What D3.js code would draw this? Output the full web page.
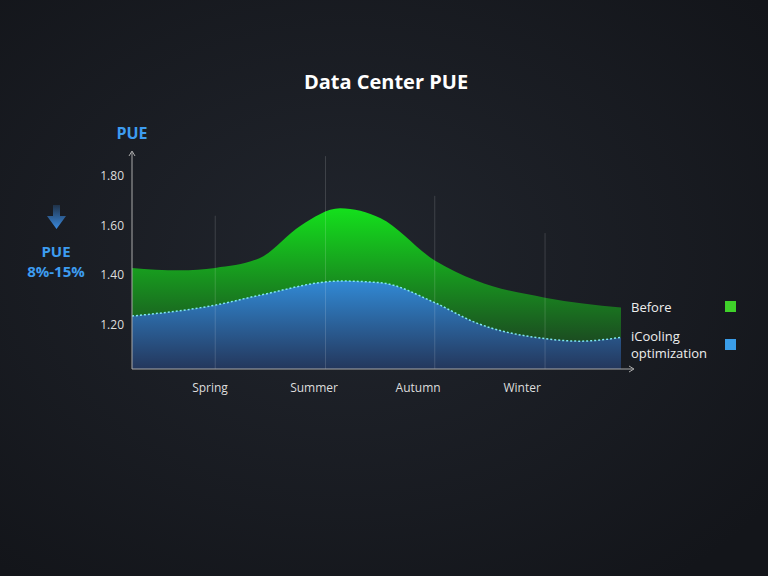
<!DOCTYPE html><html><head><meta charset="utf-8">
<script src="https://cdn.jsdelivr.net/npm/d3@7"></script>
<style>body{margin:0;background:#15181e}svg{display:block}text{font-family:"Open Sans","Noto Sans",sans-serif}</style>
</head><body><svg id="c" width="768" height="576"></svg><script>
const seasons=["Spring","Summer","Autumn","Winter"];
const seasonPos=[1,2,3,4];
const yTicks=[1.2,1.4,1.6,1.8];
const beforeX=[0.25,0.71,1.05,1.48,1.87,2.25,2.64,3.16,3.55,4.22,4.95];
const beforeV=[1.43,1.42,1.43,1.47,1.60,1.67,1.63,1.46,1.38,1.31,1.27];
const afterX=[0.25,1.05,1.48,2.25,2.64,3.16,3.55,4.22,4.56,4.95];
const afterV=[1.236,1.28,1.32,1.377,1.37,1.29,1.21,1.145,1.135,1.15];
const gridX=[1.05,2.11,3.16,4.22];
const gridTop=[1.64,1.88,1.72,1.57];
const legend=["Before","iCooling optimization"];
const colors=["#3fd12a","#3a9de8"];

const svg=d3.select("#c");
const defs=svg.append("defs");
const bg=defs.append("radialGradient").attr("id","bg").attr("cx","45%").attr("cy","45%").attr("r","70%");
bg.append("stop").attr("offset","0%").attr("stop-color","#21252d");
bg.append("stop").attr("offset","100%").attr("stop-color","#13151a");
svg.append("rect").attr("width",768).attr("height",576).attr("fill","url(#bg)");
const x=d3.scaleLinear().domain([0.25,4.95]).range([132,621]);
const y=d3.scaleLinear().domain([1.2,1.8]).range([325,176]);
const yb=369;
function grad(id,c1,c2){const g=defs.append("linearGradient").attr("id",id).attr("gradientUnits","userSpaceOnUse").attr("x1",0).attr("x2",0).attr("y1",y(1.67)).attr("y2",yb);
g.append("stop").attr("offset","0%").attr("stop-color",c1);g.append("stop").attr("offset","100%").attr("stop-color",c2);}
grad("gg","#14e01c","#1d2e22");
defs.append("linearGradient").attr("id","bb").attr("gradientUnits","userSpaceOnUse").attr("x1",0).attr("x2",0).attr("y1",y(1.377)).attr("y2",yb)
 .call(g=>{g.append("stop").attr("offset","0%").attr("stop-color","#3189d4");g.append("stop").attr("offset","100%").attr("stop-color","#24375c");});
const area=d3.area().x(d=>x(d[0])).y0(yb).y1(d=>y(d[1])).curve(d3.curveBasis);
svg.append("path").datum(beforeX.map((v,i)=>[v,beforeV[i]])).attr("d",area.curve(d3.curveMonotoneX)).attr("fill","url(#gg)");
const ad=afterX.map((v,i)=>[v,afterV[i]]);
svg.append("path").datum(ad).attr("d",area).attr("fill","url(#bb)");
svg.append("path").datum(ad).attr("d",d3.line().x(d=>x(d[0])).y(d=>y(d[1])).curve(d3.curveMonotoneX)).attr("fill","none").attr("stroke","#7fe6f2").attr("stroke-width",1.5).attr("stroke-dasharray","2,2");
gridX.forEach((g,i)=>svg.append("line").attr("x1",x(g)).attr("x2",x(g)).attr("y1",y(gridTop[i])).attr("y2",yb).attr("stroke","#fff").attr("stroke-opacity",0.15));
svg.append("line").attr("x1",132).attr("x2",132).attr("y1",yb).attr("y2",152).attr("stroke","#aaa");
svg.append("path").attr("d","M129,156L132,151L135,156").attr("fill","none").attr("stroke","#aaa");
svg.append("line").attr("x1",132).attr("x2",633).attr("y1",yb).attr("y2",yb).attr("stroke","#aaa");
svg.append("path").attr("d","M629,366L634,369L629,372").attr("fill","none").attr("stroke","#aaa");
yTicks.forEach(t=>svg.append("text").attr("x",124).attr("y",y(t)+4).attr("text-anchor","end").attr("fill","#ddd").attr("font-size",12).text(t.toFixed(2)));
seasons.forEach((s,i)=>svg.append("text").attr("x",x(seasonPos[i])).attr("y",392).attr("text-anchor","middle").attr("fill","#ddd").attr("font-size",12).text(s));
svg.append("text").attr("x",386).attr("y",89).attr("text-anchor","middle").attr("fill","#fff").attr("font-size",20).attr("font-weight","bold").text("Data Center PUE");
svg.append("text").attr("x",132).attr("y",139).attr("text-anchor","middle").attr("fill","#3d9cf0").attr("font-size",16).attr("font-weight","bold").text("PUE");
const ag=defs.append("linearGradient").attr("id","ag").attr("x1",0).attr("x2",0).attr("y1",0).attr("y2",1);
ag.append("stop").attr("offset","0%").attr("stop-color","#3a8ae0").attr("stop-opacity",0.2);ag.append("stop").attr("offset","100%").attr("stop-color","#3a8ae0");
svg.append("path").attr("d","M53,205H60V216H66L56.5,229L47,216H53Z").attr("fill","url(#ag)");
svg.append("text").attr("x",56).attr("y",257).attr("text-anchor","middle").attr("fill","#3d9cf0").attr("font-size",15).attr("font-weight","bold").text("PUE");
svg.append("text").attr("x",56).attr("y",277).attr("text-anchor","middle").attr("fill","#3d9cf0").attr("font-size",15).attr("font-weight","bold").text("8%-15%");
svg.append("text").attr("x",631).attr("y",312).attr("fill","#eee").attr("font-size",13).text(legend[0]);
const t2=svg.append("text").attr("x",631).attr("y",341).attr("fill","#eee").attr("font-size",13);
t2.append("tspan").text("iCooling");t2.append("tspan").attr("x",631).attr("dy",17).text("optimization");
svg.append("rect").attr("x",725).attr("y",301).attr("width",11).attr("height",11).attr("fill",colors[0]);
svg.append("rect").attr("x",725).attr("y",339).attr("width",11).attr("height",11).attr("fill",colors[1]);
</script></body></html>
